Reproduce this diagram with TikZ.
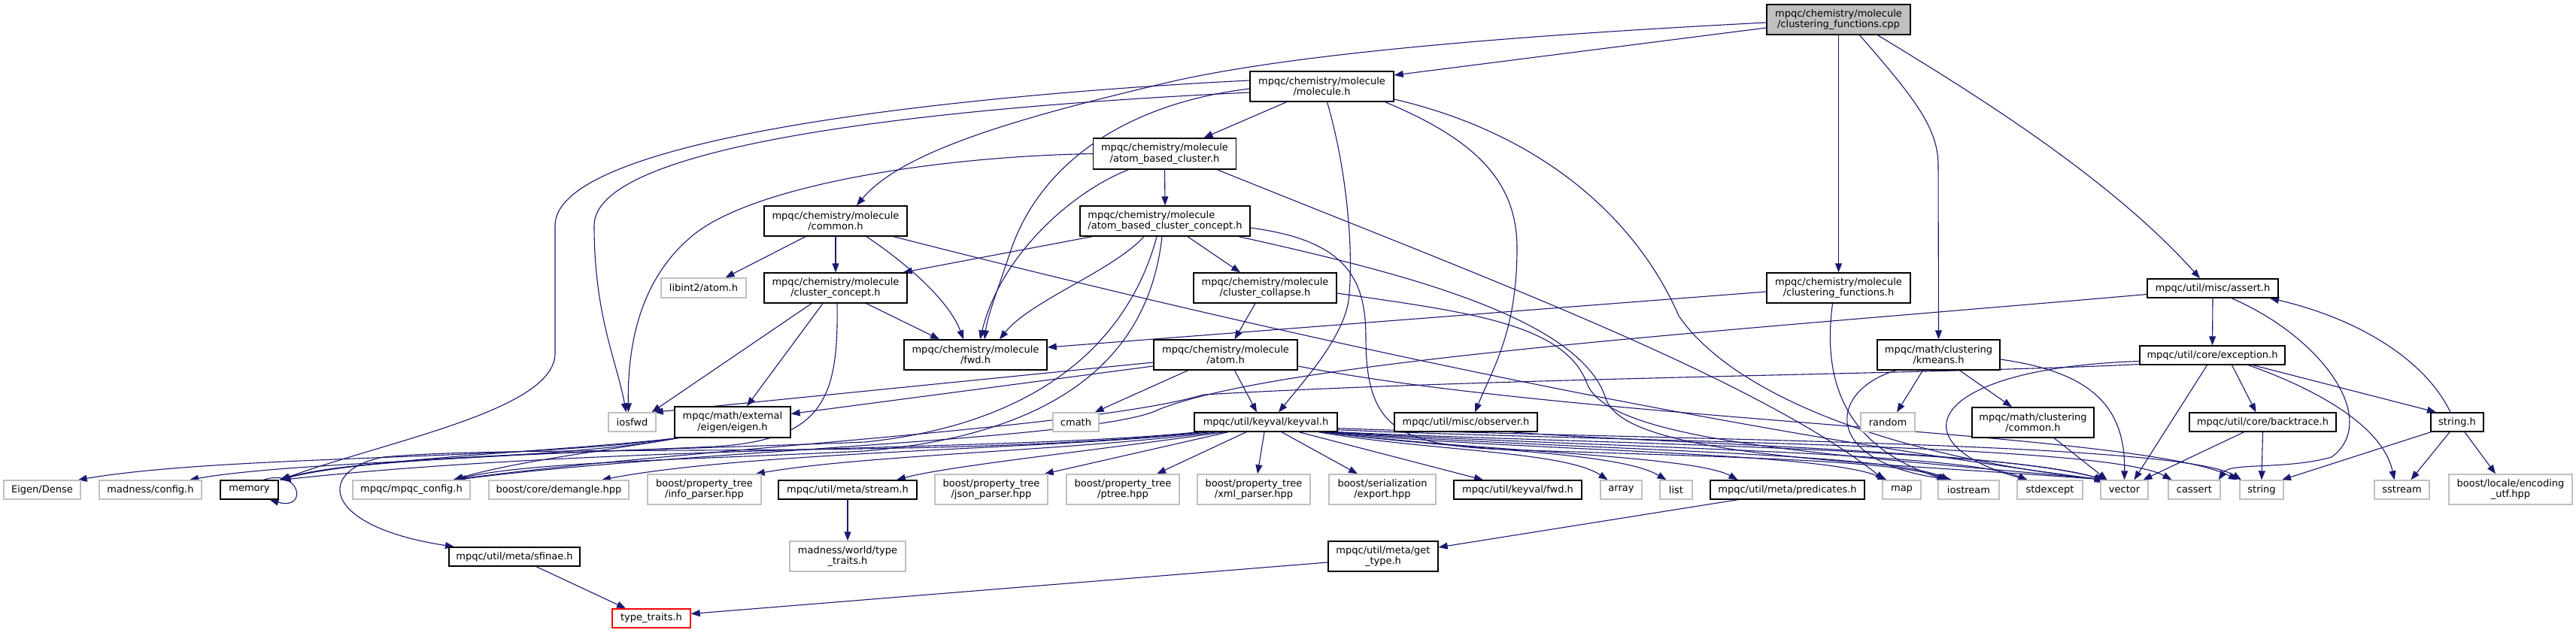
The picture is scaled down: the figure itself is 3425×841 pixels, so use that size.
\documentclass[tikz,border=0pt]{standalone}
\usepackage{fontspec}
\setmainfont{DejaVu Sans}
\usetikzlibrary{arrows.meta}
\definecolor{edgecol}{HTML}{191970}
\definecolor{grayb}{HTML}{BFBFBF}
\definecolor{cppfill}{HTML}{BFBFBF}
\pgfdeclarelayer{back}
\pgfdeclarelayer{edges}
\pgfsetlayers{back,edges,main}
\begin{document}
\begin{tikzpicture}[x=1pt,y=-1pt,
  bx/.style={rectangle, inner sep=0pt, align=center, fill=white, font=\fontsize{13}{14.5}\selectfont, line width=1.4pt},
  nb/.style={bx, draw=black},
  ng/.style={bx, draw=grayb},
  wh/.style 2 args={minimum width=#1pt, minimum height=#2pt},
  conn/.style={draw=edgecol, line width=1.1pt, -{Triangle[length=12pt,width=9pt]}}
]
\begin{pgfonlayer}{back}
\fill[white] (0,0) rectangle (3425,841);
\end{pgfonlayer}
\useasboundingbox (0,0) rectangle (3425,841);

% ---------- nodes ----------
\node[nb, fill=cppfill, wh={191}{40}] (cpp) at (2444.5,26) {mpqc/chemistry/molecule\\/clustering\_functions.cpp};
\node[nb, wh={191}{40}] (molH) at (1757.5,115) {mpqc/chemistry/molecule\\/molecule.h};
\node[nb, wh={190}{41}] (abc) at (1548.5,204.5) {mpqc/chemistry/molecule\\/atom\_based\_cluster.h};
\node[nb, wh={226}{40}, align=left] (abcc) at (1549,294) {mpqc/chemistry/molecule\\/atom\_based\_cluster\_concept.h};
\node[nb, wh={190}{40}] (common) at (1111,294) {mpqc/chemistry/molecule\\/common.h};
\node[nb, wh={190}{40}] (clconcept) at (1111,383) {mpqc/chemistry/molecule\\/cluster\_concept.h};
\node[nb, wh={190}{40}] (collapse) at (1682,383) {mpqc/chemistry/molecule\\/cluster\_collapse.h};
\node[nb, wh={191}{40}] (clfun) at (2444.5,383) {mpqc/chemistry/molecule\\/clustering\_functions.h};
\node[nb, wh={174}{25}] (assert) at (2942,383.5) {mpqc/util/misc/assert.h};
\node[ng, wh={113}{26}] (libint) at (935.5,383) {libint2/atom.h};
\node[nb, wh={190}{40}] (fwd) at (1297,472) {mpqc/chemistry/molecule\\/fwd.h};
\node[nb, wh={191}{40}] (atom) at (1629.5,472) {mpqc/chemistry/molecule\\/atom.h};
\node[nb, wh={163}{40}] (kmeans) at (2577.5,472) {mpqc/math/clustering\\/kmeans.h};
\node[nb, wh={193}{25}] (exception) at (2941.5,472.5) {mpqc/util/core/exception.h};
\node[ng, wh={63}{25}] (iosfwd) at (840.5,561.5) {iosfwd};
\node[nb, wh={154}{41}] (eigen) at (974,561.5) {mpqc/math/external\\/eigen/eigen.h};
\node[ng, wh={61}{25}] (cmath) at (1430.5,561.5) {cmath};
\node[nb, wh={190}{25}] (keyval) at (1683,561.5) {mpqc/util/keyval/keyval.h};
\node[nb, wh={190}{25}] (observer) at (1949,561.5) {mpqc/util/misc/observer.h};
\node[ng, wh={72}{25}] (random) at (2510,561.5) {random};
\node[nb, wh={162}{40}] (clcommon) at (2703,562) {mpqc/math/clustering\\/common.h};
\node[nb, wh={195}{25}] (backtrace) at (3008.5,561.5) {mpqc/util/core/backtrace.h};
\node[nb, wh={70}{25}] (stringh) at (3267,561.5) {string.h};
\node[ng, wh={102}{25}] (EigenDense) at (56,651.5) {Eigen/Dense};
\node[ng, wh={136}{25}] (madconfig) at (200,651.5) {madness/config.h};
\node[nb, wh={77}{25}] (memory) at (331.5,651.5) {memory};
\node[ng, wh={156}{25}] (mpqcconfig) at (547,651.5) {mpqc/mpqc\_config.h};
\node[ng, wh={186}{25}] (demangle) at (743,651.5) {boost/core/demangle.hpp};
\node[ng, wh={151}{40}] (info) at (936.5,651) {boost/property\_tree\\/info\_parser.hpp};
\node[nb, wh={184}{25}] (stream) at (1127,651.5) {mpqc/util/meta/stream.h};
\node[ng, wh={150}{40}] (json) at (1318,651) {boost/property\_tree\\/json\_parser.hpp};
\node[ng, wh={150}{40}] (ptree) at (1493,651) {boost/property\_tree\\/ptree.hpp};
\node[ng, wh={150}{40}] (xml) at (1667,651) {boost/property\_tree\\/xml\_parser.hpp};
\node[ng, wh={142}{40}] (export) at (1838,651) {boost/serialization\\/export.hpp};
\node[nb, wh={170}{25}] (kvfwd) at (2018,651.5) {mpqc/util/keyval/fwd.h};
\node[ng, wh={55}{25}] (array) at (2155.5,651.5) {array};
\node[ng, wh={43}{25}] (list) at (2228.5,651.5) {list};
\node[nb, wh={205}{25}] (predicates) at (2376.5,651.5) {mpqc/util/meta/predicates.h};
\node[ng, wh={51}{25}] (map) at (2528.5,651.5) {map};
\node[ng, wh={81}{25}] (iostream) at (2617.5,651.5) {iostream};
\node[ng, wh={87}{25}] (stdexcept) at (2725.5,651.5) {stdexcept};
\node[ng, wh={63}{25}] (vector) at (2824.5,651.5) {vector};
\node[ng, wh={69}{25}] (cassert) at (2917.5,651.5) {cassert};
\node[ng, wh={58}{25}] (string) at (3007,651.5) {string};
\node[ng, wh={73}{25}] (sstream) at (3193.5,651.5) {sstream};
\node[ng, wh={164}{40}] (utf) at (3338,651) {boost/locale/encoding\\\_utf.hpp};
\node[nb, wh={174}{25}] (sfinae) at (684,740.5) {mpqc/util/meta/sfinae.h};
\node[ng, wh={154}{40}] (madtt) at (1127,740) {madness/world/type\\\_traits.h};
\node[nb, wh={146}{40}] (gettype) at (1839,740) {mpqc/util/meta/get\\\_type.h};
\node[bx, draw=red, wh={104}{25}] (typetraits) at (866,822.5) {type\_traits.h};

% ---------- edges ----------
\begin{pgfonlayer}{edges}
% cpp
\draw[conn] ([yshift=-11pt]cpp.west) -- ([yshift=15pt]molH.east);
\draw[conn] ([yshift=-4pt]cpp.west) .. controls (2000,48) and (1720,72) .. (1560,108) .. controls (1360,155) and (1200,200) .. ([xshift=28pt]common.north);
\draw[conn] (cpp.south) -- (clfun.north);
\draw[conn] ([xshift=28pt]cpp.south) .. controls (2545,130) and (2577,170) .. (2577,220) -- (kmeans.north);
\draw[conn] ([xshift=52pt]cpp.south) .. controls (2600,110) and (2800,230) .. ([xshift=-17pt]assert.north);
% molecule.h
\draw[conn] ([xshift=-47pt]molH.south) -- ([xshift=52pt]abc.north);
\draw[conn] ([yshift=8pt]molH.west) .. controls (1300,125) and (738,180) .. (738,300) -- (738,470) .. controls (738,545) and (520,585) .. ([xshift=2pt]memory.north east);
\draw[conn] ([yshift=-8pt]molH.west) .. controls (1300,140) and (790,185) .. (790,300) .. controls (790,420) and (820,480) .. ([xshift=-8pt]iosfwd.north);
\draw[conn] ([yshift=-3pt]molH.west) .. controls (1480,140) and (1380,230) .. (1345,330) .. controls (1325,390) and (1313,420) .. ([xshift=12pt]fwd.north);
\draw[conn] ([xshift=7pt]molH.south) .. controls (1792,230) and (1800,340) .. (1793,400) .. controls (1785,450) and (1735,505) .. ([xshift=17pt]keyval.north);
\draw[conn] ([xshift=84pt]molH.south) .. controls (1960,185) and (2017,240) .. (2017,330) .. controls (2017,440) and (1985,490) .. ([xshift=12pt]observer.north);
\draw[conn] ([yshift=-17pt]molH.east) .. controls (2060,180) and (2180,300) .. (2232,420) .. controls (2300,520) and (2500,605) .. ([xshift=-26pt]vector.north);
% atom_based_cluster.h
\draw[conn] (abc.south) -- (abcc.north);
\draw[conn] (abc.west) .. controls (1250,208) and (1010,245) .. (925,310) .. controls (855,365) and (834,450) .. ([xshift=-5pt]iosfwd.north);
\draw[conn] ([xshift=-48pt]abc.south) .. controls (1425,255) and (1330,340) .. ([xshift=6pt]fwd.north);
\draw[conn] ([xshift=70pt]abc.south) .. controls (1950,360) and (2330,500) .. ([xshift=-23pt]map.north);
% atom_based_cluster_concept.h
\draw[conn] ([xshift=-97pt]abcc.south) -- ([xshift=-6pt]clconcept.north east);
\draw[conn] ([xshift=-28pt]abcc.south) .. controls (1480,360) and (1370,400) .. ([xshift=32pt]fwd.north);
\draw[conn] ([xshift=30pt]abcc.south) -- ([xshift=-33pt]collapse.north);
\draw[conn] ([xshift=-11pt]abcc.south) .. controls (1510,420) and (1420,560) .. (1150,588) .. controls (850,600) and (480,605) .. ([xshift=3pt]memory.north east);
\draw[conn] ([xshift=-4pt]abcc.south) .. controls (1530,450) and (1440,575) .. (1150,600) .. controls (900,612) and (700,615) .. ([xshift=57pt]mpqcconfig.north);
\draw[conn] ([xshift=98pt]abcc.south) .. controls (1850,360) and (2100,420) .. (2135,530) .. controls (2160,610) and (2500,615) .. ([xshift=-24pt]vector.north);
\draw[conn] ([yshift=-9pt]abcc.east) .. controls (1790,320) and (1816,370) .. (1816,450) .. controls (1816,570) and (1860,592) .. (2000,598) .. controls (2300,608) and (2520,612) .. ([xshift=-28pt]iostream.north);
% common.h
\draw[conn] ([xshift=-40pt]common.south) -- ([xshift=29pt]libint.north);
\draw[conn] (common.south) -- (clconcept.north);
\draw[conn] ([xshift=41pt]common.south) .. controls (1205,350) and (1262,400) .. ([xshift=-16pt]fwd.north);
\draw[conn] ([xshift=77pt]common.south) .. controls (1600,420) and (2200,560) .. ([xshift=-28pt]vector.north);
% cluster_concept.h
\draw[conn] ([xshift=-32pt]clconcept.south) -- ([xshift=26pt]iosfwd.north);
\draw[conn] ([xshift=-17pt]clconcept.south) -- ([xshift=19pt]eigen.north);
\draw[conn] ([xshift=2pt]clconcept.south) .. controls (1115,530) and (1095,585) .. (950,594) .. controls (700,605) and (460,612) .. ([xshift=1pt]memory.north east);
\draw[conn] ([xshift=41pt]clconcept.south) -- ([xshift=-48pt]fwd.north);
% cluster_collapse.h
\draw[conn] ([xshift=-13pt]collapse.south) -- ([xshift=12pt]atom.north);
\draw[conn] ([yshift=-7pt]collapse.east) .. controls (1950,415) and (2080,430) .. (2110,510) .. controls (2140,590) and (2450,605) .. ([xshift=-22pt]vector.north);
% clustering_functions.h
\draw[conn] ([yshift=-5pt]clfun.west) -- ([yshift=10pt]fwd.east);
\draw[conn] ([xshift=-8pt]clfun.south) .. controls (2425,490) and (2440,590) .. ([xshift=-30pt]iostream.north);
% kmeans.h
\draw[conn] ([xshift=-21pt]kmeans.south) -- ([xshift=12pt]random.north);
\draw[conn] ([xshift=28pt]kmeans.south) -- ([xshift=-28pt]clcommon.north);
\draw[conn] ([yshift=-6pt]kmeans.east) .. controls (2780,495) and (2826,540) .. (vector.north);
\draw[conn] ([xshift=-57pt]kmeans.south) .. controls (2430,520) and (2420,615) .. ([xshift=-22pt]iostream.north);
% atom.h
\draw[conn] ([yshift=-15pt]atom.west) -- ([yshift=11pt]eigen.east);
\draw[conn] ([yshift=-10pt]atom.west) -- ([xshift=-3pt]iosfwd.north east);
\draw[conn] ([xshift=-50pt]atom.south) -- ([xshift=-6pt]cmath.north east);
\draw[conn] ([xshift=12pt]atom.south) -- ([xshift=-12pt]keyval.north);
\draw[conn] ([yshift=-15pt]atom.east) .. controls (2100,560) and (2850,575) .. ([xshift=-32pt]string.north);
% keyval.h
\draw[conn] ([xshift=-90pt]keyval.south) .. controls (1350,600) and (800,592) .. ([xshift=4pt]memory.north east);
\draw[conn] ([xshift=-85pt]keyval.south) .. controls (1250,612) and (700,590) .. (510,608) .. controls (420,625) and (425,700) .. ([xshift=-80pt]sfinae.north);
\draw[conn] ([xshift=-75pt]keyval.south) .. controls (1400,598) and (1000,600) .. ([xshift=57pt]demangle.north);
\draw[conn] ([xshift=-65pt]keyval.south) .. controls (1420,600) and (1150,605) .. ([xshift=-8pt]info.north east);
\draw[conn] ([xshift=-55pt]keyval.south) .. controls (1450,600) and (1260,620) .. ([xshift=65pt]stream.north);
\draw[conn] ([xshift=-50pt]keyval.south) -- ([xshift=-5pt]json.north east);
\draw[conn] ([xshift=-26pt]keyval.south) -- ([xshift=45pt]ptree.north);
\draw[conn] ([xshift=-2pt]keyval.south) -- ([xshift=5pt]xml.north);
\draw[conn] ([xshift=21pt]keyval.south) -- ([xshift=-33pt]export.north);
\draw[conn] ([xshift=44pt]keyval.south) -- ([xshift=-46pt]kvfwd.north);
\draw[conn] ([xshift=70pt]keyval.south) .. controls (1900,600) and (2080,600) .. ([xshift=-18pt]array.north);
\draw[conn] ([xshift=75pt]keyval.south) .. controls (1950,600) and (2150,600) .. ([xshift=-13pt]list.north);
\draw[conn] ([xshift=80pt]keyval.south) .. controls (1950,600) and (2250,605) .. ([xshift=-66pt]predicates.north);
\draw[conn] ([xshift=85pt]keyval.south) .. controls (2000,600) and (2420,600) .. ([xshift=-20pt]map.north);
\draw[conn] ([xshift=88pt]keyval.south) .. controls (2050,598) and (2500,600) .. ([xshift=-25pt]iostream.north);
\draw[conn] ([xshift=90pt]keyval.south) .. controls (2100,595) and (2600,600) .. ([xshift=-30pt]stdexcept.north);
\draw[conn] (keyval.south east) .. controls (2100,590) and (2650,595) .. ([xshift=-27pt]vector.north);
\draw[conn] ([yshift=3pt]keyval.south east) .. controls (2150,588) and (2800,590) .. ([xshift=-30pt]cassert.north);
\draw[conn] ([yshift=5pt]keyval.south east) .. controls (2200,585) and (2900,588) .. ([xshift=-27pt]string.north);
% observer.h
\draw[conn] ([xshift=60pt]observer.south) .. controls (2200,590) and (2650,598) .. ([xshift=-26pt]vector.north);
% predicates, stream, sfinae, get_type
\draw[conn] ([xshift=-66pt]predicates.south) -- ([yshift=12pt]gettype.east);
\draw[conn] (stream.south) -- (madtt.north);
\draw[conn] ([xshift=29pt]sfinae.south) -- ([xshift=-34pt]typetraits.north);
\draw[conn] ([yshift=-8pt]gettype.west) -- ([yshift=6pt]typetraits.east);
% math/clustering/common.h
\draw[conn] ([xshift=28pt]clcommon.south) -- ([xshift=-23pt]vector.north);
% exception.h
\draw[conn] ([xshift=26pt]exception.south) -- ([xshift=-9pt]backtrace.north);
\draw[conn] ([xshift=-7pt]exception.south) -- ([xshift=13pt]vector.north);
\draw[conn] ([yshift=-8pt]exception.west) .. controls (2560,490) and (2520,590) .. ([xshift=-30pt]stdexcept.north);
\draw[conn] ([xshift=54pt]exception.south) -- ([xshift=-28pt]stringh.north);
\draw[conn] ([xshift=48pt]exception.south) .. controls (3100,525) and (3170,575) .. ([xshift=-10pt]sstream.north);
\draw[conn] ([yshift=-12pt]exception.west) .. controls (2600,497) and (2000,502) .. (1600,525) .. controls (1450,570) and (900,598) .. ([xshift=55pt]mpqcconfig.north);
% assert.h
\draw[conn] (assert.south) -- (exception.north);
\draw[conn] ([xshift=25pt]assert.south) .. controls (3090,450) and (3165,560) .. (3100,608) .. controls (3040,625) and (2965,615) .. ([xshift=-3pt]cassert.north east);
\draw[conn] ([yshift=-8pt]assert.west) .. controls (2300,440) and (1700,480) .. (1540,545) .. controls (1460,585) and (900,600) .. ([xshift=60pt]mpqcconfig.north);
% backtrace.h
\draw[conn] ([xshift=-25pt]backtrace.south) -- ([xshift=25pt]vector.north);
\draw[conn] (backtrace.south) -- (string.north);
% string.h
\draw[conn] ([xshift=-9pt]stringh.north) .. controls (3220,470) and (3120,420) .. ([xshift=76pt]assert.south);
\draw[conn] ([xshift=-35pt]stringh.south) -- ([xshift=27pt]string.north);
\draw[conn] ([xshift=-10pt]stringh.south) -- ([xshift=12pt]sstream.north);
\draw[conn] ([xshift=10pt]stringh.south) -- ([xshift=-20pt]utf.north);
% eigen.h
\draw[conn] ([xshift=-75pt]eigen.south) .. controls (700,612) and (300,605) .. ([xshift=-4pt]EigenDense.north east);
\draw[conn] ([xshift=-74pt]eigen.south) .. controls (750,612) and (400,612) .. ([xshift=52pt]madconfig.north);
\draw[conn] ([xshift=-73pt]eigen.south) .. controls (750,600) and (480,610) .. ([xshift=1pt]memory.north east);
\draw[conn] ([xshift=-72pt]eigen.south) .. controls (800,600) and (680,615) .. ([xshift=56pt]mpqcconfig.north);
% memory self loop
\draw[conn] ([xshift=19pt]memory.north) .. controls (400,622) and (410,680) .. ([xshift=27pt]memory.south);
\end{pgfonlayer}
\end{tikzpicture}
\end{document}
